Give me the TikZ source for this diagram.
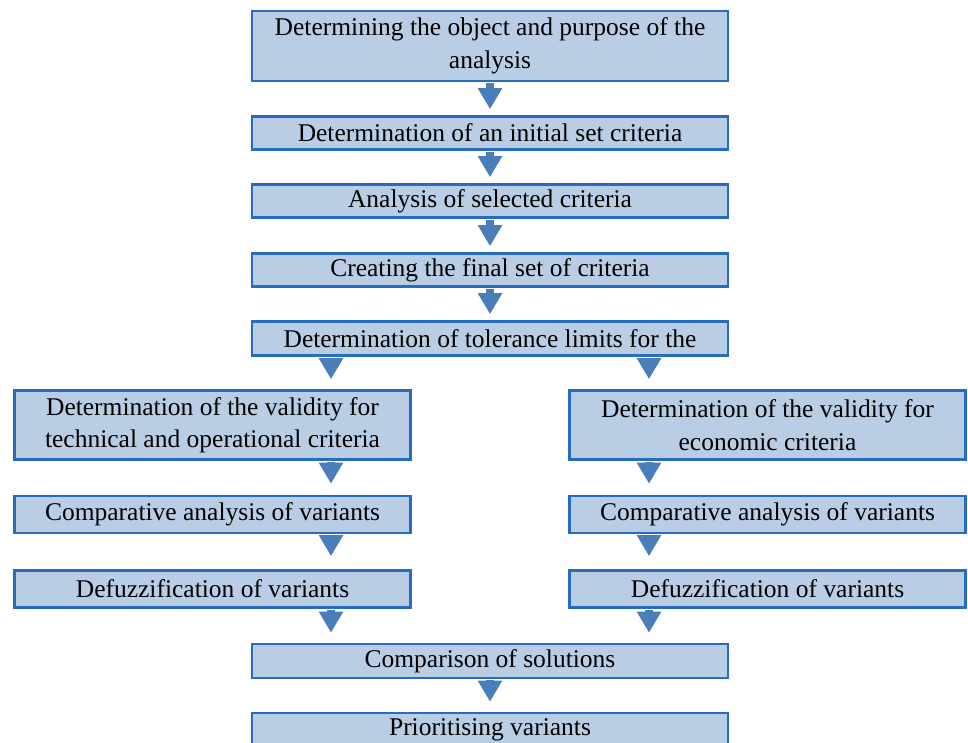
\documentclass[tikz,border=0pt]{standalone}
\usepackage{fontspec}
\setmainfont{Liberation Serif}
\usetikzlibrary{arrows.meta}
\definecolor{boxfill}{RGB}{185,205,229}
\definecolor{boxline}{RGB}{40,108,190}
\definecolor{arrowc}{RGB}{74,126,187}
\begin{document}
\begin{tikzpicture}[x=1pt,y=-1pt,
  box/.style={draw=boxline, line width=2.6pt, fill=boxfill, inner sep=0pt, align=center,
    font=\fontsize{25.5}{32.5}\selectfont, anchor=center},
  cbox/.style={box, minimum width=476pt},
  sbox/.style={box, minimum width=396pt},
  barrow/.style={draw=arrowc, line width=8pt, -{Triangle[width=23pt,length=21pt]}, shorten <=1pt}]
\useasboundingbox (0,0) rectangle (968,743);
\clip (0,0) rectangle (968,743);
\coordinate (lc) at (331,0);
\coordinate (rc) at (649,0);
\node[cbox, minimum height=70pt] (b1) at (490,46) {Determining the object and purpose of the\\analysis};
\node[cbox, minimum height=33pt] (b2) at (490,133) {Determination of an initial set criteria};
\node[cbox, minimum height=33pt] (b3) at (490,201) {Analysis of selected criteria};
\node[cbox, minimum height=33pt] (b4) at (490,270) {Creating the final set of criteria};
\node[cbox, minimum height=34pt] (b5) at (490,338.5) {Determination of tolerance limits for the};
\node[sbox, minimum height=69pt] (l6) at (212.5,425) {Determination of the validity for\\technical and operational criteria};
\node[sbox, minimum height=69pt] (r6) at (767.5,425) {Determination of the validity for\\economic criteria};
\node[sbox, minimum height=37pt] (l7) at (212.5,514.5) {Comparative analysis of variants};
\node[sbox, minimum height=37pt] (r7) at (767.5,514.5) {Comparative analysis of variants};
\node[sbox, minimum height=37pt] (l8) at (212.5,589) {Defuzzification of variants};
\node[sbox, minimum height=37pt] (r8) at (767.5,589) {Defuzzification of variants};
\node[cbox, minimum height=34pt] (b9) at (490,661) {Comparison of solutions};
\node[cbox, minimum height=34pt] (b10) at (490,730) {Prioritising variants};
\draw[barrow, shorten >=6pt] (b1) -- (b2);
\draw[barrow, shorten >=6pt] (b2) -- (b3);
\draw[barrow, shorten >=6pt] (b3) -- (b4);
\draw[barrow, shorten >=6pt] (b4) -- (b5);
\draw[barrow, shorten >=10pt] (b5.south -| lc) -- (l6.north -| lc);
\draw[barrow, shorten >=10pt] (b5.south -| rc) -- (r6.north -| rc);
\draw[barrow, shorten >=11pt] (l6.south -| lc) -- (l7.north -| lc);
\draw[barrow, shorten >=11pt] (r6.south -| rc) -- (r7.north -| rc);
\draw[barrow, shorten >=13pt] (l7.south -| lc) -- (l8.north -| lc);
\draw[barrow, shorten >=13pt] (r7.south -| rc) -- (r8.north -| rc);
\draw[barrow, shorten >=10pt] (l8.south -| lc) -- (b9.north -| lc);
\draw[barrow, shorten >=10pt] (r8.south -| rc) -- (b9.north -| rc);
\draw[barrow, shorten >=10pt] (b9) -- (b10);
\end{tikzpicture}
\end{document}
